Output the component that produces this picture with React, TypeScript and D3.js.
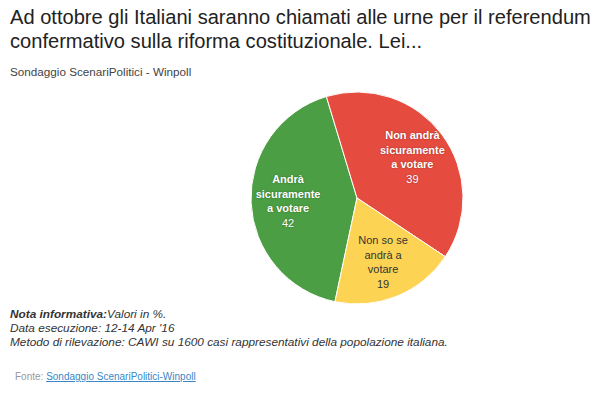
import React from "react";
import * as d3 from "d3";

// chart data
const categories = ["Andrà sicuramente a votare", "Non andrà sicuramente a votare", "Non so se andrà a votare"];
const values = [42, 39, 19];
const labelLines = [
  ["Andrà", "sicuramente", "a votare"],
  ["Non andrà", "sicuramente", "a votare"],
  ["Non so se", "andrà a", "votare"],
];
const colors = ["#4b9e43", "#e64b3f", "#fdd353"];
const labelColors = ["#ffffff", "#ffffff", "#333333"];
const labelBold = [true, true, false];

const titleLines = [
  "Ad ottobre gli Italiani saranno chiamati alle urne per il referendum",
  "confermativo sulla riforma costituzionale. Lei...",
];
const subtitle = "Sondaggio ScenariPolitici - Winpoll";
const notes = [
  "Data esecuzione: 12-14 Apr '16",
  "Metodo di rilevazione: CAWI su 1600 casi rappresentativi della popolazione italiana.",
];

const W = 600;
const H = 397;
const FONT = "'Liberation Sans', Arial, sans-serif";

export default function App() {
  const cx = 357;
  const cy = 198;
  const r = 106;
  const labelR = 69;

  const startAngle = (192 * Math.PI) / 180;
  const pie = d3
    .pie<number>()
    .sort(null)
    .value((d) => d)
    .startAngle(startAngle)
    .endAngle(startAngle + 2 * Math.PI);
  const arcs = pie(values);
  const arc = d3.arc<d3.PieArcDatum<number>>().innerRadius(0).outerRadius(r);
  const labelArc = d3.arc<d3.PieArcDatum<number>>().innerRadius(labelR).outerRadius(labelR);
  const lineH = 14.5;

  return (
    <svg width={W} height={H} style={{ position: "absolute", left: 0, top: 0, fontFamily: FONT }}>
      <rect width={W} height={H} fill="#ffffff" />
      {titleLines.map((t, i) => (
        <text key={t} x={10} y={24 + i * 24} fontSize={20.1} fill="#222">
          {t}
        </text>
      ))}
      <text x={10} y={76} fontSize={11.7} fill="#444">
        {subtitle}
      </text>

      <g transform={`translate(${cx},${cy})`}>
        {arcs.map((a, i) => (
          <path key={categories[i]} d={arc(a) || ""} fill={colors[i]} stroke="#ffffff" strokeWidth={1} />
        ))}
        {arcs.map((a, i) => {
          const [lx, ly] = labelArc.centroid(a);
          const lines = [...labelLines[i], String(values[i])];
          const y0 = ly - ((lines.length - 1) * lineH) / 2;
          return (
            <text
              key={"l" + i}
              textAnchor="middle"
              fontSize={11}
              fill={labelColors[i]}
              style={labelColors[i] === "#ffffff" ? { textShadow: "0 0 2px rgba(0,0,0,0.35)" } : undefined}
            >
              {lines.map((ln, j) => (
                <tspan
                  key={j}
                  x={lx}
                  y={y0 + j * lineH + 4}
                  fontWeight={labelBold[i] && j < lines.length - 1 ? "bold" : "normal"}
                >
                  {ln}
                </tspan>
              ))}
            </text>
          );
        })}
      </g>

      <g fontStyle="italic" fontSize={11.8} fill="#333">
        <text x={10} y={318}>
          <tspan fontWeight="bold">Nota informativa:</tspan>
          <tspan>Valori in %.</tspan>
        </text>
        {notes.map((n, i) => (
          <text key={n} x={10} y={332 + i * 14}>
            {n}
          </text>
        ))}
      </g>

      <text x={15} y={380} fontSize={10} fill="#999">
        Fonte:{" "}
        <tspan fill="#3a87c8" textDecoration="underline">
          Sondaggio ScenariPolitici-Winpoll
        </tspan>
      </text>
    </svg>
  );
}
